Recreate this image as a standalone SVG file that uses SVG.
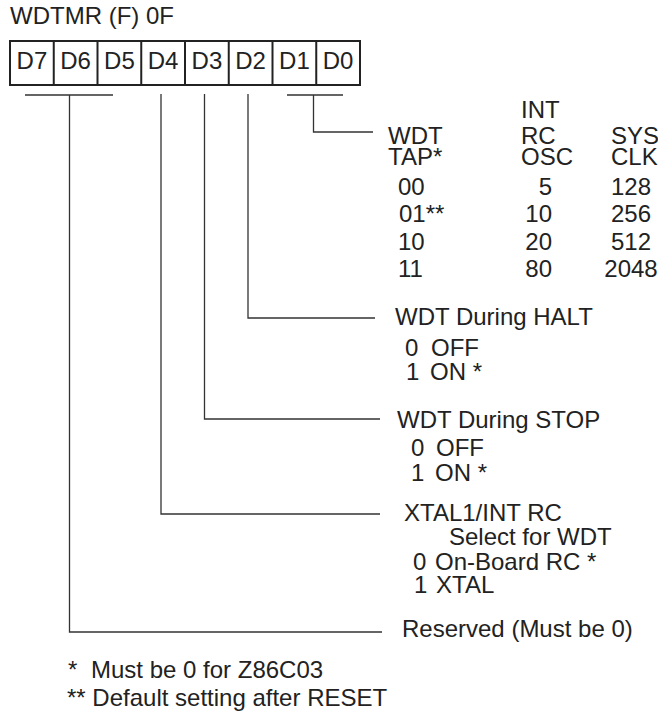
<svg xmlns="http://www.w3.org/2000/svg" width="658" height="714" viewBox="0 0 658 714">
<style>
text{font-family:"Liberation Sans",Arial,sans-serif;font-size:24px;fill:#222}
.box{fill:none;stroke:#222;stroke-width:2}
.ln{fill:none;stroke:#333;stroke-width:1.3}
.m{text-anchor:middle}
.e{text-anchor:end}
</style>
<rect width="658" height="714" fill="#fff"/>
<g id="title"><text x="10" y="24">WDTMR (F) 0F</text></g>
<g id="register">
<rect class="box" x="10" y="41" width="350" height="44"/>
<path class="box" d="M53.75 41V85M97.5 41V85M141.25 41V85M185 41V85M228.75 41V85M272.5 41V85M316.25 41V85"/>
<text class="m" x="31.9" y="69">D7</text>
<text class="m" x="75.6" y="69">D6</text>
<text class="m" x="119.4" y="69">D5</text>
<text class="m" x="163.1" y="69">D4</text>
<text class="m" x="206.9" y="69">D3</text>
<text class="m" x="250.6" y="69">D2</text>
<text class="m" x="294.4" y="69">D1</text>
<text class="m" x="338.1" y="69">D0</text>
</g>
<g id="connectors">
<path class="ln" d="M25 95H113M69.5 95V632H382"/>
<path class="ln" d="M161 94V514H380"/>
<path class="ln" d="M204.5 94V419H380"/>
<path class="ln" d="M248 94V318H375"/>
<path class="ln" d="M287 95H343M313.5 95V132H373"/>
</g>
<g id="wdt-tap">
<text x="521" y="118">INT</text>
<text x="388" y="144">WDT</text>
<text x="521" y="144">RC</text>
<text x="611" y="144">SYS</text>
<text x="388" y="165">TAP*</text>
<text x="521" y="165">OSC</text>
<text x="611" y="165">CLK</text>
<text x="398" y="195">00</text><text x="552" y="195" class="e">5</text><text x="631" y="195" class="m">128</text>
<text x="399" y="222">01**</text><text x="552" y="222" class="e">10</text><text x="631" y="222" class="m">256</text>
<text x="398" y="249.5">10</text><text x="552" y="249.5" class="e">20</text><text x="631" y="249.5" class="m">512</text>
<text x="398" y="277">11</text><text x="552" y="277" class="e">80</text><text x="631" y="277" class="m">2048</text>
</g>
<g id="wdt-halt">
<text x="395" y="325">WDT During HALT</text>
<text y="356"><tspan x="405">0</tspan><tspan x="431">OFF</tspan></text>
<text y="380"><tspan x="406">1</tspan><tspan x="430">ON *</tspan></text>
</g>
<g id="wdt-stop">
<text x="397" y="428">WDT During STOP</text>
<text y="456"><tspan x="411">0</tspan><tspan x="436">OFF</tspan></text>
<text y="481"><tspan x="411">1</tspan><tspan x="435">ON *</tspan></text>
</g>
<g id="xtal">
<text x="404" y="521">XTAL1/INT RC</text>
<text x="449" y="545">Select for WDT</text>
<text y="570"><tspan x="413">0</tspan><tspan x="435">On-Board RC *</tspan></text>
<text y="593"><tspan x="414">1</tspan><tspan x="436">XTAL</tspan></text>
</g>
<g id="reserved"><text x="402" y="637">Reserved (Must be 0)</text></g>
<g id="notes">
<text y="678"><tspan x="68">*</tspan><tspan x="91">Must be 0 for Z86C03</tspan></text>
<text x="67" y="706">** Default setting after RESET</text>
</g>
</svg>
